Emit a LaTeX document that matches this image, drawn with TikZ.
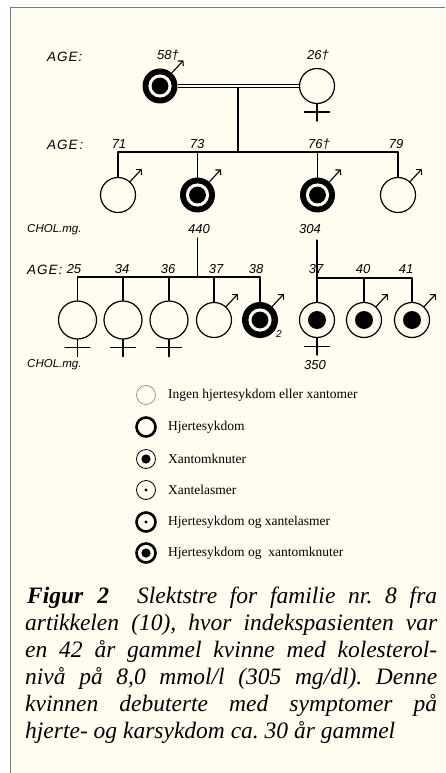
\documentclass[tikz,border=0pt]{standalone}
\usepackage{fontspec}
\setmainfont{Liberation Serif}
\newfontfamily\hand{Liberation Sans}
\usetikzlibrary{arrows.meta}
\definecolor{cream}{RGB}{255,252,240}
\definecolor{framegray}{RGB}{120,120,120}
\newcommand\malesym[1]{\draw[malearr] (#1.48) -- ++(47:17pt);}
\newcommand\femsym[1]{\draw[pline] (#1.south) -- ++(0,17); \draw[pline] ([xshift=-12.5pt,yshift=-8pt]#1.south) -- ([xshift=12.5pt,yshift=-8pt]#1.south);}
\frenchspacing
\begin{document}
\begin{tikzpicture}[x=1pt,y=-1pt,
  pline/.style={line width=1.2pt, line cap=round},
  plainp/.style={circle, draw, line width=1.2pt, inner sep=0pt, minimum size=#1, fill=cream},
  plainp/.default=35pt,
  ringp/.style={circle, fill=black, inner sep=0pt, minimum size=#1,
    path picture={\fill[cream] (path picture bounding box.center) circle (11.6pt);
                  \fill[black] (path picture bounding box.center) circle (8.4pt);}},
  ringp/.default=35pt,
  xanp/.style={circle, draw, line width=1.2pt, inner sep=0pt, minimum size=35pt, fill=cream,
    path picture={\fill[black] (path picture bounding box.center) circle (9pt);}},
  malearr/.style={line width=1.1pt, line cap=round, -{Straight Barb[length=3.5pt,width=7.5pt,line width=1.1pt]}},
  hlab/.style={font=\hand\itshape\fontsize{13}{14}\selectfont, inner sep=0pt},
  agelab/.style={font=\hand\itshape\fontsize{13.5}{14}\selectfont, inner sep=0pt, anchor=west},
  chollab/.style={font=\hand\itshape\fontsize{11.5}{12}\selectfont, inner sep=0pt, anchor=west},
  legc/.style={circle, inner sep=0pt, minimum size=19pt, fill=cream},
  legthin/.style={legc, draw, line width=0.8pt},
  legthick/.style={legc, draw, line width=2.6pt},
  legtext/.style={font=\fontsize{13.5}{15}\selectfont, anchor=west, inner sep=0pt},
  dotbig/.style={path picture={\fill[black] (path picture bounding box.center) circle (4.6pt);}},
  dotsmall/.style={path picture={\fill[black] (path picture bounding box.center) circle (1.6pt);}},
  capline/.style={font=\itshape\fontsize{23.5}{27}\selectfont, anchor=base west, inner sep=0pt}
]
\useasboundingbox (0,0) rectangle (445,773);
\fill[white] (0,0) rectangle (445,773);
\fill[cream] (10.5,7.5) rectangle (445,773);
\draw[framegray, line width=1.5pt] (10.5,773) -- (10.5,7.5) -- (445,7.5);

% ---------- generation 1
\node[agelab] (age1) at (47,57) {A\kern1ptG\kern1ptE\kern1pt:};
\node[hlab] (a58) at (168,55) {58†};
\node[hlab] (a26) at (318,55) {26†};
\node[ringp] (f) at (160,86) {};
\node[plainp] (m) at (317,86) {};
\draw[line width=1.1pt, double=cream, double distance=2.2pt] (f) -- (m);
\malesym{f}
\femsym{m}
\coordinate (mid) at (238,87.8);
\coordinate (sib) at (238,152);
\draw[pline] (mid) -- (sib);

% ---------- generation 2
\node[agelab] (age2) at (47,145) {A\kern1ptG\kern1ptE\kern2pt:};
\node[hlab] (a71) at (119,144) {71};
\node[hlab] (a73) at (197,144) {73};
\node[hlab] (a76) at (319,144) {76†};
\node[hlab] (a79) at (396,144) {79};
\coordinate (b1) at (118,152);
\coordinate (b2) at (197.5,152);
\coordinate (b3) at (317.5,152);
\coordinate (b4) at (398,152);
\draw[pline] (b1) -- (b4);
\node[plainp] (c1) at (118,195) {};
\node[ringp] (c2) at (197.5,195) {};
\node[ringp] (c3) at (317.5,195) {};
\node[plainp] (c4) at (398,195) {};
\foreach \i in {1,2,3,4} {\draw[pline] (b\i) -- (c\i); \malesym{c\i}}

% ---------- cholesterol row
\node[chollab] (chol1) at (27,230) {CHOL.mg.};
\node[hlab] (v440) at (199,229) {440};
\node[hlab] (v304) at (310,229) {304};

% ---------- generation 3 left
\node[agelab] (age3) at (27,270) {A\kern1ptG\kern1ptE\kern1pt:};
\node[hlab] (a25) at (74,269) {25};
\node[hlab] (a34) at (122,269) {34};
\node[hlab] (a36) at (168,269) {36};
\node[hlab] (a37a) at (216,269) {37};
\node[hlab] (a38) at (256,269) {38};
\coordinate (dtop) at (197.5,238);
\coordinate (dbot) at (197.5,277);
\draw[pline] (dtop) -- (dbot);
\coordinate (g1b) at (77.5,277);
\coordinate (g2b) at (123,277);
\coordinate (g3b) at (169,277);
\coordinate (g4b) at (214,277);
\coordinate (g5b) at (260,277);
\draw[pline] (g1b) -- (g5b);
\node[plainp=38pt] (g1) at (77.5,320) {};
\node[plainp=38pt] (g2) at (123,320) {};
\node[plainp=38pt] (g3) at (169,320) {};
\node[plainp] (g4) at (214,320) {};
\node[ringp=36pt] (g5) at (260,320) {};
\foreach \i in {1,...,5} {\draw[pline] (g\i b) -- (g\i);}
\femsym{g1} \femsym{g2} \femsym{g3}
\malesym{g4} \malesym{g5}
\node[hlab, font=\hand\itshape\fontsize{10}{11}\selectfont] (two) at (279,334) {2};

% ---------- generation 3 right
\node[hlab] (a37b) at (316,269) {37};
\node[hlab] (a40) at (363,269) {40};
\node[hlab] (a41) at (406,269) {41};
\coordinate (rtop) at (317,240);
\coordinate (h2b) at (364,278);
\coordinate (h3b) at (412,278);
\coordinate (h1b) at (317,278);
\draw[pline] (h1b) -- (h3b);
\node[xanp] (h1) at (317,320) {};
\node[xanp] (h2) at (364,320) {};
\node[xanp] (h3) at (412,320) {};
\draw[pline] (rtop) -- (h1);
\draw[pline] (h2b) -- (h2);
\draw[pline] (h3b) -- (h3);
\femsym{h1}
\malesym{h2} \malesym{h3}

\node[chollab] (chol2) at (27,365) {CHOL.mg.};
\node[hlab] (v350) at (315,365) {350};

% ---------- legend
\node[legthin, draw=black!45, line width=0.7pt] (L1) at (146,395) {};
\node[legthick] (L2) at (146,427) {};
\node[legthin, dotbig] (L3) at (146,459) {};
\node[legthin, dotsmall] (L4) at (146,490) {};
\node[legthick, dotsmall] (L5) at (146,522) {};
\node[legthick, dotbig] (L6) at (146,553) {};
\node[legtext] (T1) at (168,395) {Ingen hjertesykdom eller xantomer};
\node[legtext] (T2) at (168,427) {Hjertesykdom};
\node[legtext] (T3) at (168,459) {Xantomknuter};
\node[legtext] (T4) at (168,490) {Xantelasmer};
\node[legtext] (T5) at (168,522) {Hjertesykdom og xantelasmer};
\node[legtext] (T6) at (168,553) {Hjertesykdom og\ \ xantomknuter};

% ---------- caption
\node[capline] (cap1) at (27,603) {\textbf{Figur\kern14pt 2}\kern28pt\makebox[300pt][s]{Slektstre for familie nr. 8 fra}};
\node[capline] (cap2) at (25,630) {\makebox[412pt][s]{artikkelen (10), hvor indekspasienten var}};
\node[capline] (cap3) at (25,657) {\makebox[412pt][s]{en 42 år gammel kvinne med kolesterol-}};
\node[capline] (cap4) at (25,684) {\makebox[412pt][s]{nivå på 8,0 mmol/l (305 mg/dl). Denne}};
\node[capline] (cap5) at (25,711) {\makebox[412pt][s]{kvinnen debuterte med symptomer på}};
\node[capline] (cap6) at (25,738) {hjerte- og karsykdom ca. 30 år gammel};
\end{tikzpicture}
\end{document}
